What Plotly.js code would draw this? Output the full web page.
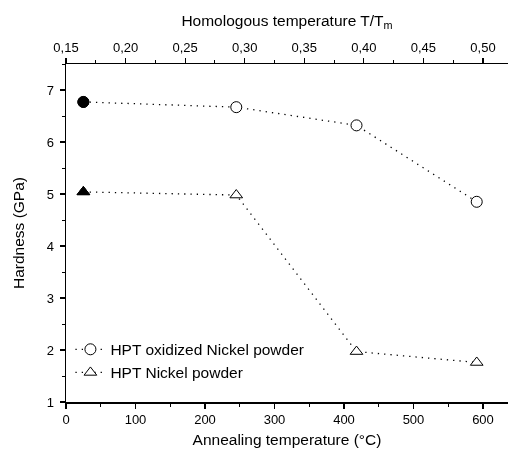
<!DOCTYPE html>
<html>
<head>
<meta charset="utf-8">
<script src="https://cdn.plot.ly/plotly-3.0.1.min.js"></script>
<style>
  html, body { margin: 0; padding: 0; background: #fff; }
  #chart { width: 508px; height: 452px; }
</style>
</head>
<body>
<div id="chart"></div>
<script>
// Annealing temperature (°C) of each sample
const annealTemp = [25, 245, 418, 591];
// Hardness (GPa)
const hardnessOxidized = [6.77, 6.67, 6.32, 4.85];
const hardnessNickel = [5.04, 4.98, 1.97, 1.76];
const seriesNames = ['HPT oxidized Nickel powder', 'HPT Nickel powder'];

// Temperature range shown on the bottom axis, and the matching homologous temperature
const tempRange = [0, 636];
const homologousAt0 = 0.15;
const homologousAt600 = 0.50;
const toHomologous = t => homologousAt0 + (homologousAt600 - homologousAt0) * t / 600;
const homologousRange = tempRange.map(toHomologous);

const font = 'Liberation Sans, Arial, sans-serif';
const dotted = '1.3px,5px';

function series(y, name, symbol) {
  return {
    x: annealTemp, y: y, name: name, type: 'scatter', mode: 'lines+markers',
    line: { color: '#000', width: 1.3, dash: dotted },
    marker: { symbol: symbol, size: 11, color: '#fff', line: { color: '#000', width: 1 } }
  };
}

// as-pressed state (first point) drawn filled
function firstPoint(y, symbol) {
  return {
    x: annealTemp.slice(0, 1), y: y.slice(0, 1), type: 'scatter', mode: 'markers',
    showlegend: false, hoverinfo: 'skip',
    marker: { symbol: symbol, size: 11, color: '#000', line: { color: '#000', width: 1 } }
  };
}

const traces = [
  series(hardnessOxidized, seriesNames[0], 'circle'),
  series(hardnessNickel, seriesNames[1], 'triangle-up'),
  firstPoint(hardnessOxidized, 'circle'),
  firstPoint(hardnessNickel, 'triangle-up'),
  // same samples on the homologous-temperature scale (keeps the top axis attached)
  {
    x: annealTemp.map(toHomologous), y: hardnessOxidized, xaxis: 'x2', type: 'scatter',
    mode: 'markers', opacity: 0, showlegend: false, hoverinfo: 'skip',
    marker: { size: 1, color: 'rgba(0,0,0,0)' }
  }
];

const axisCommon = {
  showline: true, linecolor: '#000', linewidth: 1.5, mirror: false,
  ticks: 'outside', ticklen: 5, tickwidth: 1.2, tickcolor: '#000',
  showgrid: false, zeroline: false,
  tickfont: { family: font, size: 13, color: '#000' }
};
const titleFont = { family: font, size: 15.5, color: '#000' };

const layout = {
  width: 508, height: 452,
  margin: { l: 66, r: 0, t: 64, b: 50 },
  paper_bgcolor: '#fff', plot_bgcolor: '#fff',
  separators: ', ',
  showlegend: true,
  legend: {
    x: 0.01, y: 0.205, xanchor: 'left', yanchor: 'top',
    bgcolor: 'rgba(0,0,0,0)', borderwidth: 0,
    font: { family: font, size: 15.5, color: '#000' },
    tracegroupgap: 0, itemwidth: 30
  },
  xaxis: Object.assign({}, axisCommon, {
    range: tempRange, dtick: 100, tick0: 0,
    minor: { dtick: 50, ticks: 'outside', ticklen: 3, tickcolor: '#000', tickwidth: 1 },
    title: { text: 'Annealing temperature (°C)', font: titleFont, standoff: 8 }
  }),
  xaxis2: Object.assign({}, axisCommon, {
    overlaying: 'x', side: 'top', anchor: 'y',
    range: homologousRange, dtick: 0.05, tick0: 0.15, tickformat: '.2f',
    minor: { dtick: 0.025, ticks: 'outside', ticklen: 3, tickcolor: '#000', tickwidth: 1 },
    title: { text: 'Homologous temperature T/T<sub>m</sub>', font: titleFont, standoff: 10 }
  }),
  yaxis: Object.assign({}, axisCommon, {
    range: [1, 7.5], dtick: 1, tick0: 1, ticklabelstandoff: 3,
    minor: { dtick: 0.5, ticks: 'outside', ticklen: 3, tickcolor: '#000', tickwidth: 1 },
    title: { text: 'Hardness (GPa)', font: titleFont, standoff: 18 }
  })
};

Plotly.newPlot('chart', traces, layout, { displayModeBar: false, staticPlot: true });
</script>
</body>
</html>
